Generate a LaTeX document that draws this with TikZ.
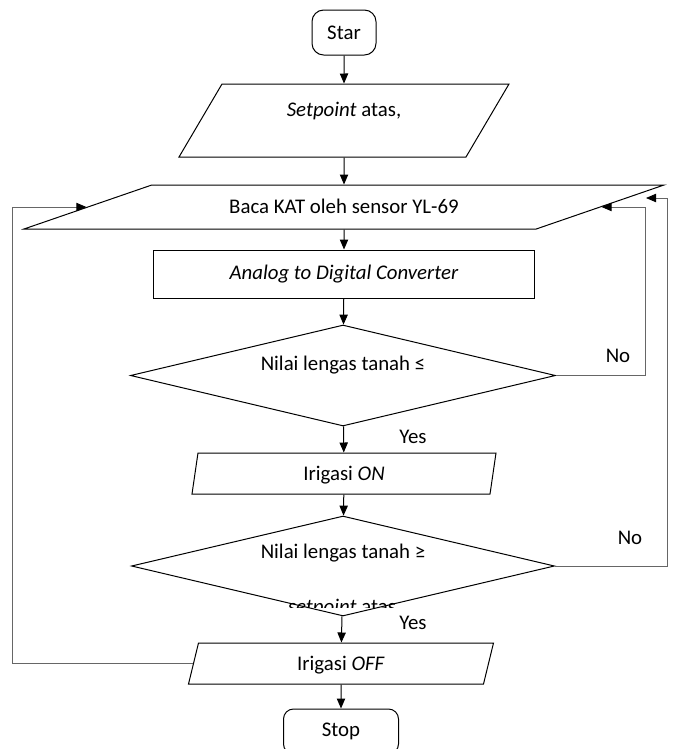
\documentclass[tikz,border=0pt]{standalone}
\usepackage{fontspec}
\setmainfont{Carlito}
\usetikzlibrary{shapes.geometric,arrows.meta}

\begin{document}
\begin{tikzpicture}[x=0.6pt, y=-0.6pt, line width=0.6pt,
        font=\fontsize{12.5}{15}\selectfont,
        arr/.style={-{Triangle[length=6pt,width=5pt]}},
        loopline/.style={draw=black!60, line width=0.5pt, -{Triangle[length=6pt,width=5pt,color=black]}},
        terminal/.style={draw, rounded corners=7pt, inner sep=0pt, minimum height=27pt},
        io/.style={draw, trapezium, trapezium stretches body, inner sep=0pt},
        decision/.style={draw, diamond, aspect=4, inner sep=0pt}]
    \useasboundingbox ( 0, 0 ) rectangle ( 673, 749 );

    % блоки
    \node [terminal, minimum width=38.4pt] (star) at ( 344, 32.5 ) {Star};
    \node [io, trapezium left angle=59.5, trapezium right angle=120.5,
        minimum width=198pt, text height=19.7pt, text depth=24.1pt] (setp) at ( 344, 120.5 ) {\textit{Setpoint} atas,};
    \node [io, trapezium left angle=19, trapezium right angle=161,
        minimum width=384pt, text height=17.3pt, text depth=9.1pt] (baca) at ( 344, 207 ) {Baca KAT oleh sensor YL-69};
    \node [draw, minimum width=229.2pt, minimum height=28.8pt] (adc) at ( 344, 274 ) {\textit{Analog to Digital Converter}};
    \node [decision, minimum width=255pt, minimum height=60.6pt] (cek1) at ( 343, 375.5 ) {};
    \node (cek1txt) at ( 343, 365 ) {Nilai lengas tanah ≤};
    \node [io, trapezium left angle=81.7, trapezium right angle=98.3,
        minimum width=182.4pt, text height=16.4pt, text depth=8.2pt] (on) at ( 344, 473.5 ) {Irigasi \textit{ON}};
    \node [decision, minimum width=253.8pt, minimum height=60pt] (cek2) at ( 343, 566 ) {};
    \node (cek2txt) at ( 343, 553 ) {Nilai lengas tanah ≥};
    \begin{scope}
        \clip ( 250, 595 ) rectangle ( 440, 607 );
        \node [anchor=base] (setp2) at ( 342, 613 ) {\textit{setpoint} atas};
    \end{scope}
    \node [io, trapezium left angle=76.3, trapezium right angle=103.7,
        minimum width=183pt, text height=16.4pt, text depth=8.2pt] (off) at ( 341, 663.5 ) {Irigasi \textit{OFF}};
    \node [terminal, rounded corners=6pt, minimum width=69pt] (stop) at ( 341, 731.5 ) {Stop};

    % стрелки
    \draw [arr] (star) -- (setp);
    \draw [arr] (setp) -- (baca);
    \draw [arr] (baca) -- (adc);
    \draw [arr] (adc) -- (cek1);
    \draw [arr] (cek1) -- (on);
    \draw [arr] (on) -- (cek2);
    \draw [arr] (cek2) -- (off);
    \draw [arr] (off) -- (stop);

    % петли
    \coordinate (kanan1) at ( 645, 0 );
    \coordinate (kanan2) at ( 667, 0 );
    \coordinate (kiri) at ( 12, 0 );
    \coordinate (masuk2) at ( 646, 198 );
    \draw [loopline] (cek1.east) -| (kanan1 |- baca.right side) -- (baca.right side);
    \draw [loopline] (cek2.east) -| (kanan2 |- masuk2) -- (masuk2);
    \draw [loopline] (off.left side) -| (kiri |- baca.left side) -- (baca.left side);

    % подписи
    \node (no1) at ( 618, 356 ) {No};
    \node (no2) at ( 630, 538 ) {No};
    \node (yes1) at ( 413, 437 ) {Yes};
    \node (yes2) at ( 413, 623 ) {Yes};
\end{tikzpicture}
\end{document}
